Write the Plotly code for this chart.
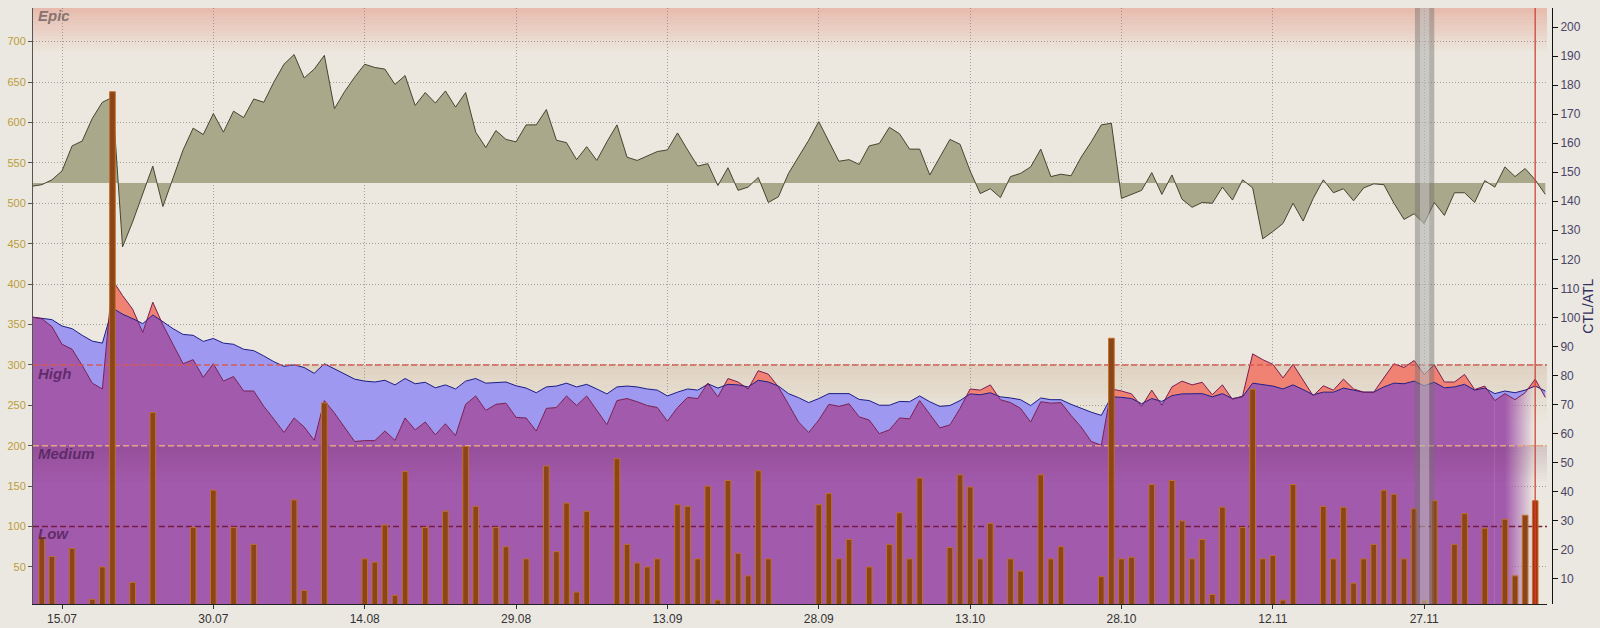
import numpy as np
import pandas as pd
import plotly.graph_objects as go

# ---------------- data (one value per day, starting 12.07) ----------------
START_DATE = "2014-07-12"

# olive curve (left axis units), filled against TSB_BASE
TSB = [521, 523, 529, 540, 571, 577, 605, 625, 631, 446,
       477, 511, 546, 496, 532, 566, 593, 585, 611, 588,
       614, 606, 629, 625, 650, 672, 684, 655, 666, 683,
       617, 638, 656, 672, 668, 666, 647, 658, 621, 637,
       624, 639, 619, 637, 588, 569, 590, 579, 576, 597,
       597, 616, 578, 575, 554, 570, 553, 576, 597, 557,
       553, 558, 564, 566, 587, 566, 546, 549, 522, 544,
       516, 520, 532, 501, 508, 537, 557, 578, 601, 576,
       552, 554, 548, 571, 574, 594, 586, 567, 567, 535,
       557, 579, 573, 540, 512, 518, 507, 533, 537, 545,
       567, 533, 536, 534, 557, 576, 597, 599, 506, 511,
       516, 538, 511, 535, 505, 495, 501, 500, 520, 504,
       529, 519, 456, 465, 475, 500, 478, 506, 529, 513,
       518, 503, 519, 524, 523, 500, 480, 487, 475, 501,
       485, 513, 513, 501, 528, 520, 545, 533, 543, 529,
       511]
TSB_BASE = 525

# CTL / ATL (right axis units)
CTL = [100.1, 99.7, 99.2, 97.0, 96.1, 93.8, 91.8, 91.1, 103.2, 101.1,
       99.7, 97.8, 100.8, 98.5, 96.1, 94.1, 93.8, 91.7, 92.7, 91.1,
       90.7, 89.0, 88.5, 86.7, 84.7, 83.1, 83.6, 82.7, 80.7, 84.0,
       82.3, 80.4, 78.7, 78.0, 77.7, 78.3, 76.7, 78.9, 77.1, 77.6,
       75.7, 76.7, 75.3, 78.0, 78.9, 77.3, 77.6, 77.7, 76.4, 75.6,
       74.0, 76.0, 76.3, 77.3, 76.0, 76.9, 75.3, 73.6, 76.0, 76.3,
       76.0, 75.3, 74.9, 72.9, 74.2, 75.3, 74.9, 77.1, 75.6, 76.9,
       76.7, 76.0, 78.3, 77.7, 76.3, 73.7, 72.3, 70.6, 72.0, 73.7,
       73.6, 73.7, 71.7, 71.3, 69.7, 69.7, 71.0, 70.9, 72.9, 70.9,
       69.3, 69.6, 71.3, 73.6, 73.3, 74.0, 72.6, 72.2, 71.6, 69.6,
       72.2, 71.6, 71.6, 70.0, 68.6, 67.3, 66.2, 72.6, 72.4, 72.0,
       70.2, 72.0, 71.0, 73.0, 73.6, 73.6, 73.7, 72.6, 73.7, 72.0,
       72.6, 77.3, 76.7, 76.3, 75.3, 76.7, 75.1, 73.3, 74.2, 74.2,
       75.6, 74.9, 74.2, 74.2, 76.0, 77.3, 77.1, 78.0, 76.4, 77.6,
       75.7, 76.0, 76.9, 74.9, 75.6, 73.7, 74.6, 74.0, 74.9, 76.3,
       74.6]
ATL = [100.1, 99.5, 96.8, 90.7, 89.0, 83.4, 77.3, 75.3, 112.9, 107.5,
       102.8, 94.8, 105.2, 97.4, 90.7, 84.0, 85.4, 79.3, 84.0, 78.0,
       79.6, 74.6, 74.6, 69.3, 64.9, 60.3, 65.3, 62.2, 57.6, 71.3,
       67.0, 61.9, 57.2, 57.5, 57.5, 60.8, 57.6, 65.3, 61.2, 63.9,
       59.5, 63.3, 59.2, 70.0, 72.9, 67.9, 70.0, 70.4, 65.5, 65.3,
       60.8, 68.6, 68.9, 72.9, 69.6, 72.9, 67.9, 63.0, 71.3, 72.0,
       70.9, 69.6, 68.9, 64.2, 68.9, 72.4, 72.0, 77.3, 72.6, 78.9,
       77.7, 75.3, 81.6, 80.4, 76.0, 70.0, 63.9, 60.3, 64.6, 70.0,
       69.3, 70.2, 65.7, 64.6, 59.9, 61.2, 65.3, 65.0, 71.3, 66.6,
       61.9, 62.9, 68.6, 75.3, 74.9, 76.7, 71.6, 70.6, 68.6, 63.9,
       70.9, 70.4, 70.6, 66.2, 62.2, 57.2, 55.9, 75.3, 74.6, 73.6,
       69.3, 74.9, 69.7, 76.0, 78.0, 76.7, 77.6, 73.3, 76.7, 71.7,
       72.9, 87.4, 85.4, 83.8, 79.1, 83.8, 78.3, 72.9, 76.4, 74.9,
       78.7, 75.3, 74.2, 74.2, 79.3, 84.0, 82.7, 85.1, 80.3, 83.6,
       77.7, 77.7, 80.3, 75.1, 76.3, 71.3, 73.7, 71.6, 74.0, 78.7,
       72.4]

# daily load bars (left axis units), 0 = no workout
LOAD = [0, 87, 63, 0, 73, 0, 10, 50, 638, 0,
        31, 0, 241, 0, 0, 0, 99, 0, 145, 0,
        99, 0, 78, 0, 0, 0, 133, 21, 0, 253,
        0, 0, 0, 60, 56, 102, 15, 168, 0, 99,
        0, 119, 0, 199, 125, 0, 99, 75, 0, 60,
        0, 175, 69, 129, 19, 119, 0, 0, 184, 78,
        55, 50, 60, 0, 127, 125, 60, 150, 9, 157,
        67, 39, 169, 60, 0, 0, 0, 0, 127, 141,
        60, 84, 0, 50, 0, 78, 117, 60, 160, 0,
        0, 74, 164, 149, 60, 104, 0, 60, 45, 0,
        164, 60, 75, 0, 0, 0, 38, 333, 60, 62,
        0, 152, 0, 157, 107, 60, 84, 16, 124, 0,
        99, 270, 60, 64, 9, 152, 0, 0, 125, 60,
        124, 30, 60, 78, 145, 140, 60, 122, 9, 132,
        0, 78, 116, 0, 98, 0, 109, 39, 114, 132,
        0]

ZONE_NAMES = ["Low", "Medium", "High", "Epic"]
ZONE_LEVELS = [100, 200, 300, 700]
TICK_START = "2014-07-15"
TICK_STEP_DAYS = 15
TODAY = "2014-12-08"
MARKED_DAY = "2014-11-27"
FADE_FROM = "2014-12-04"
LEFT_RANGE = [4.2, 741.6]
RIGHT_SCALE = 3.589          # left-axis units per CTL/ATL unit
VIEW_DAYS = [0.126, 150.17]  # visible window, days after START_DATE

# ---------------- helpers ----------------
start = pd.Timestamp(START_DATE)
n = len(TSB)
u = np.arange(n, dtype=float)


def to_date(v):
    return start + pd.to_timedelta(np.asarray(v, dtype=float), unit="D")


def day_of(s):
    return (pd.Timestamp(s) - start) / pd.Timedelta(days=1)


dates = to_date(u)
xr0 = start + pd.Timedelta(days=VIEW_DAYS[0])
xr1 = start + pd.Timedelta(days=VIEW_DAYS[1])

# CTL/ATL drawn in left-axis units
atl_l = np.array(ATL) * RIGHT_SCALE
ctl_l = np.array(CTL) * RIGHT_SCALE
ru, ra, rc = [], [], []
for i in range(n):
    ru.append(u[i]); ra.append(atl_l[i]); rc.append(ctl_l[i])
    if i < n - 1:
        d0 = atl_l[i] - ctl_l[i]
        d1 = atl_l[i + 1] - ctl_l[i + 1]
        if d0 * d1 < 0:
            f = d0 / (d0 - d1)
            ru.append(u[i] + f)
            ra.append(atl_l[i] + f * (atl_l[i + 1] - atl_l[i]))
            rc.append(ctl_l[i] + f * (ctl_l[i + 1] - ctl_l[i]))
ru = np.array(ru); ra = np.array(ra); rc = np.array(rc)
lo = np.minimum(ra, rc)
hi = np.maximum(ra, rc)
rx = to_date(ru)

fade_u = day_of(FADE_FROM)
main_mask = ru <= fade_u
fade_mask = ru >= fade_u

PURPLE = "rgb(162,90,172)"
PURPLE0 = "rgba(162,90,172,0)"
BLUE_FILL = "rgb(158,152,240)"
RED_FILL = "rgb(240,130,115)"
OLIVE_FILL = "rgb(169,168,139)"
NOLINE = dict(width=0, color="rgba(0,0,0,0)")

fig = go.Figure()

# olive area (fill between curve and base line)
fig.add_trace(go.Scatter(x=dates, y=[TSB_BASE] * n, mode="lines", line=NOLINE, hoverinfo="skip"))
fig.add_trace(go.Scatter(x=dates, y=TSB, mode="lines", fill="tonexty",
                         fillcolor=OLIVE_FILL, line=dict(color="#45452f", width=1)))

# purple area under min(ATL, CTL)
fig.add_trace(go.Scatter(x=rx[main_mask], y=lo[main_mask], mode="lines",
                         line=NOLINE, fill="tozeroy", fillcolor=PURPLE, hoverinfo="skip"))
fig.add_trace(go.Scatter(x=rx[fade_mask], y=lo[fade_mask], mode="lines",
                         line=NOLINE, fill="tozeroy",
                         fillgradient=dict(type="horizontal",
                                           colorscale=[[0, PURPLE], [0.2, PURPLE],
                                                       [0.78, PURPLE0], [1, PURPLE0]]),
                         hoverinfo="skip"))
# blue between min and CTL, red between CTL and max
fig.add_trace(go.Scatter(x=rx, y=lo, mode="lines", line=NOLINE, hoverinfo="skip"))
fig.add_trace(go.Scatter(x=rx, y=rc, mode="lines", fill="tonexty", fillcolor=BLUE_FILL,
                         line=NOLINE, hoverinfo="skip"))
fig.add_trace(go.Scatter(x=rx, y=hi, mode="lines", fill="tonexty", fillcolor=RED_FILL,
                         line=NOLINE, hoverinfo="skip"))
fig.add_trace(go.Scatter(x=rx, y=rc, mode="lines", line=dict(color="#1c1c86", width=1), name="CTL"))
fig.add_trace(go.Scatter(x=rx, y=ra, mode="lines", line=dict(color="#7a1c52", width=1), name="ATL"))


def strip_traces(top, bottom, rgb, a0, steps):
    edges = np.linspace(top, bottom, steps + 1)
    out = []
    for k in range(steps):
        a = a0 * (1 - k / steps)
        out.append(go.Scatter(x=[xr0, xr1, xr1, xr0, xr0],
                              y=[edges[k], edges[k], edges[k + 1], edges[k + 1], edges[k]],
                              mode="lines", line=NOLINE,
                              fill="toself", fillcolor=f"rgba({rgb},{a:.3f})", hoverinfo="skip"))
    return out


# darker band just below the Medium threshold (over the purple area)
for tr in strip_traces(ZONE_LEVELS[1], ZONE_LEVELS[1] - 45, "95,35,75", 0.17, 12):
    fig.add_trace(tr)

# zone threshold dashed lines
zone_line_styles = {
    "Low": "rgba(115,25,60,0.95)",
    "Medium": "rgba(232,170,130,0.95)",
    "High": "rgba(212,90,80,0.95)",
}
for name, lvl in zip(ZONE_NAMES, ZONE_LEVELS):
    if name in zone_line_styles:
        fig.add_trace(go.Scatter(x=[xr0, xr1], y=[lvl, lvl], mode="lines",
                                 line=dict(color=zone_line_styles[name], width=1.5, dash="6px,3px"),
                                 hoverinfo="skip"))

# load bars on an overlaid axis (same scale) so they are drawn above the areas
load_y = [v if v > 0 else None for v in LOAD]
today_u = day_of(TODAY)
bar_colors = ["#a8320e" if abs(uu - today_u) < 0.01 else "#8a4518" for uu in u]
fig.add_trace(go.Bar(x=dates, y=load_y, width=0.56 * 86400000, yaxis="y3",
                     marker=dict(color=bar_colors, line=dict(color="#c0702a", width=1)),
                     name="Load"))

# dummy trace so the CTL/ATL axis is drawn
fig.add_trace(go.Scatter(x=[dates[0]], y=[None], yaxis="y2", mode="lines", hoverinfo="skip"))

# ---------------- background bands (shapes below traces) ----------------
shapes = []


def strip_shapes(top, bottom, rgb, a0, steps):
    edges = np.linspace(top, bottom, steps + 1)
    for k in range(steps):
        a = a0 * (1 - k / steps)
        shapes.append(dict(type="rect", xref="x", yref="y", x0=xr0, x1=xr1,
                           y0=edges[k + 1], y1=edges[k], layer="below",
                           line=dict(width=0), fillcolor=f"rgba({rgb},{a:.3f})"))


strip_shapes(LEFT_RANGE[1], ZONE_LEVELS[3] - 12, "228,150,132", 0.55, 14)
strip_shapes(ZONE_LEVELS[2], ZONE_LEVELS[2] - 70, "195,160,125", 0.30, 12)

# marked day: grey cylinder band
mk = pd.Timestamp(MARKED_DAY)
shapes.append(dict(type="rect", xref="x", yref="paper", x0=mk - pd.Timedelta(hours=22),
                   x1=mk + pd.Timedelta(hours=24), y0=0, y1=1, layer="above",
                   line=dict(width=0), fillcolor="rgba(115,112,110,0.45)"))
shapes.append(dict(type="rect", xref="x", yref="paper", x0=mk - pd.Timedelta(hours=10),
                   x1=mk + pd.Timedelta(hours=12), y0=0, y1=1, layer="above",
                   line=dict(width=0), fillcolor="rgba(255,255,255,0.30)"))
# today line
shapes.append(dict(type="line", xref="x", yref="paper", x0=TODAY, x1=TODAY, y0=0, y1=1,
                   layer="above", line=dict(color="rgba(205,65,55,0.85)", width=1.5)))

# ---------------- annotations ----------------
annotations = []
label_style = {
    "Epic": "rgba(128,110,108,0.95)",
    "High": "rgba(85,35,95,0.85)",
    "Medium": "rgba(85,35,95,0.85)",
    "Low": "rgba(85,35,95,0.85)",
}
label_y = {"Epic": 732, "High": 290, "Medium": 191, "Low": 91}
for name in ZONE_NAMES:
    annotations.append(dict(text=name, xref="paper", yref="y", x=0.002, y=label_y[name],
                            xanchor="left", yanchor="middle", showarrow=False,
                            font=dict(family="Liberation Sans", size=15, color=label_style[name],
                                      weight="bold", style="italic")))
annotations.append(dict(text="CTL/ATL", xref="paper", yref="paper", x=1.0235, y=0.5,
                        textangle=-90, showarrow=False, xanchor="center", yanchor="middle",
                        font=dict(family="Liberation Sans", size=14, color="#33305e")))

GRID = "rgba(110,110,110,0.6)"
fig.update_layout(
    width=1600, height=628,
    margin=dict(l=33, r=48, t=8, b=24, autoexpand=False),
    paper_bgcolor="#ebe8e1",
    plot_bgcolor="#ece8df",
    showlegend=False,
    barmode="overlay",
    shapes=shapes,
    annotations=annotations,
    xaxis=dict(type="date", domain=[0, 0.99671], range=[xr0, xr1], automargin=False,
               tick0=TICK_START, dtick=TICK_STEP_DAYS * 86400000, tickformat="%d.%m",
               ticks="outside", ticklen=4, tickcolor="#333",
               showgrid=True, gridcolor=GRID, griddash="1px,2px", gridwidth=1,
               showline=True, linecolor="#222", linewidth=1, zeroline=False,
               layer="above traces",
               tickfont=dict(family="Liberation Sans", size=12, color="#333")),
    yaxis=dict(range=LEFT_RANGE, tick0=0, dtick=50, ticks="outside", ticklen=4, automargin=False,
               tickcolor="#555", showgrid=True, gridcolor=GRID, griddash="1px,2px", gridwidth=1,
               showline=True, linecolor="#555", linewidth=1, zeroline=False,
               layer="above traces",
               tickfont=dict(family="Liberation Sans", size=11, color="#bb9d3a")),
    yaxis2=dict(overlaying="y", side="right", anchor="free", position=1.0, automargin=False,
                range=[LEFT_RANGE[0] / RIGHT_SCALE, LEFT_RANGE[1] / RIGHT_SCALE],
                tick0=0, dtick=10, ticks="outside", ticklen=5, tickcolor="#111",
                showgrid=False, showline=True, linecolor="#111", linewidth=1, zeroline=False,
                tickfont=dict(family="Liberation Sans", size=12, color="#4a4466")),
    yaxis3=dict(overlaying="y", range=LEFT_RANGE, visible=False, automargin=False,
                showgrid=False, zeroline=False),
)

# remove the default page margin so the 1600x628 figure fills the window exactly
fig.write_html("out.html", config={"displayModeBar": False},
               post_script="document.body.style.margin='0';document.body.style.overflow='hidden';")
